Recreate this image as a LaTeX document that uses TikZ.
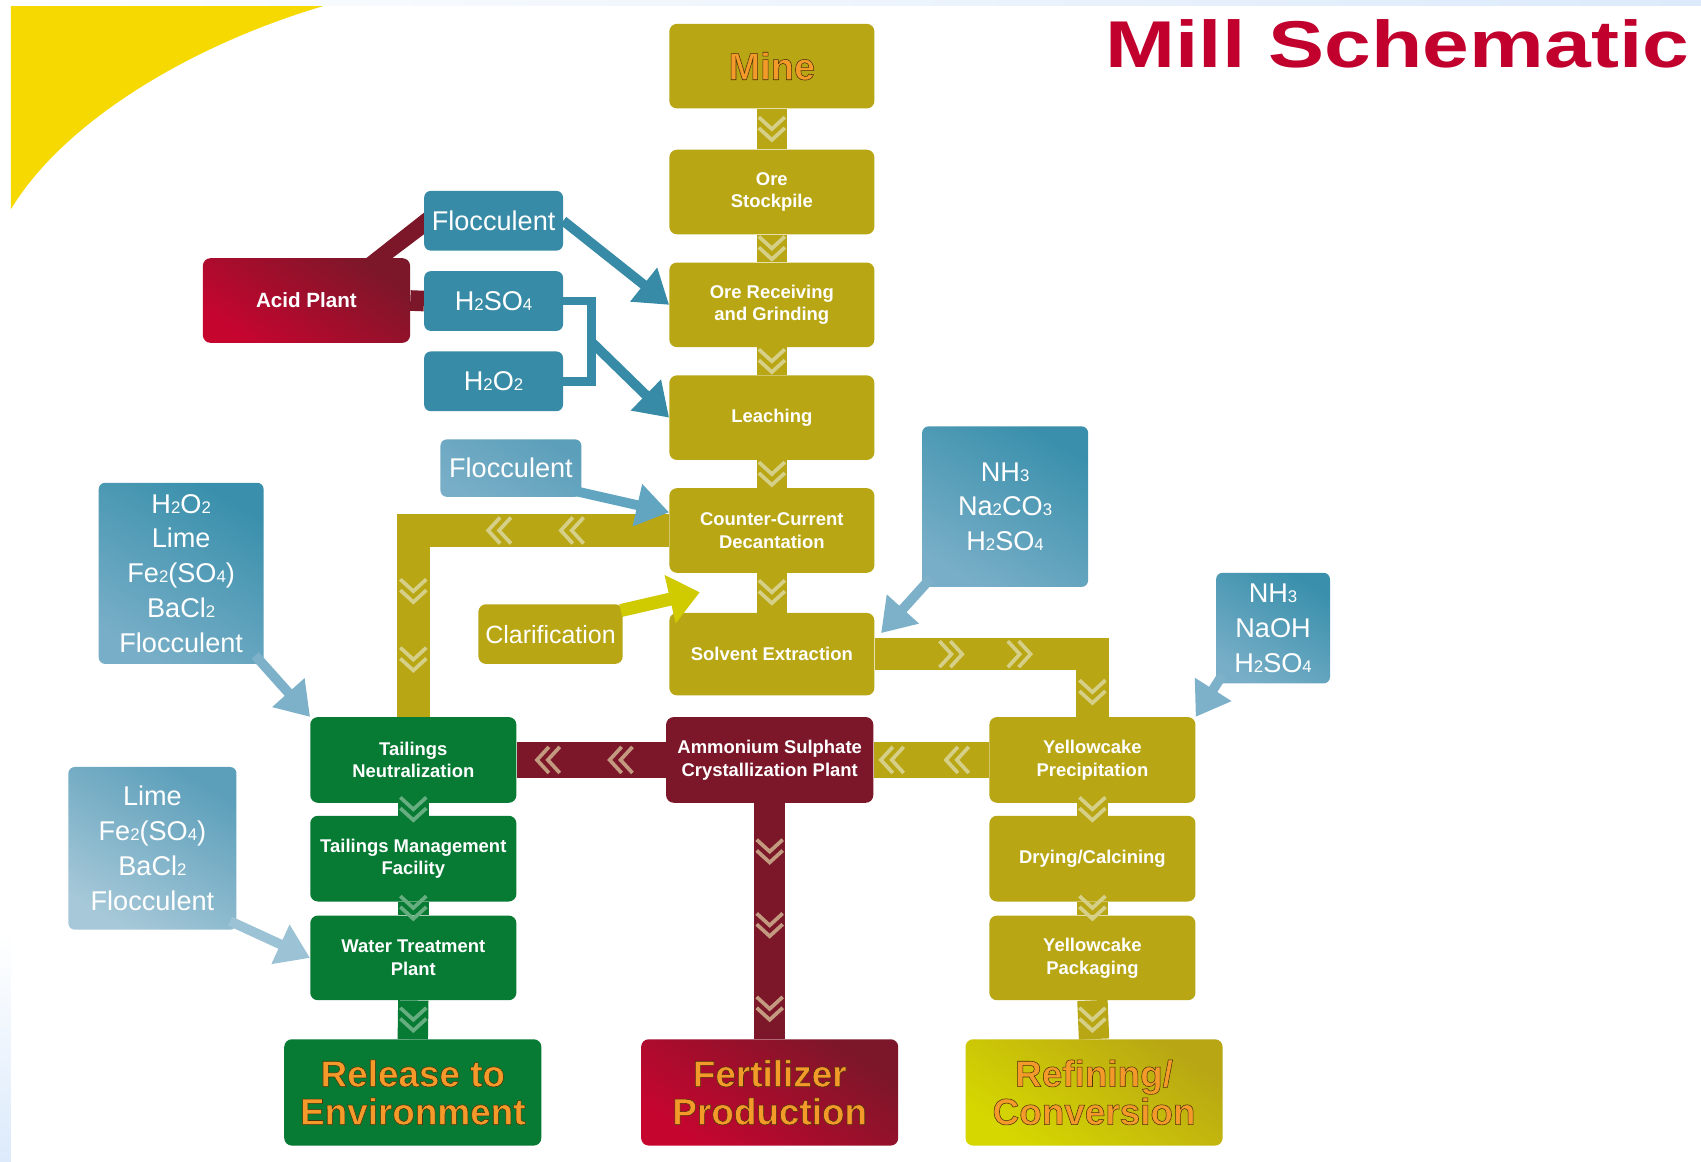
\documentclass[tikz,border=0pt]{standalone}
\usepackage{fontspec}
\setmainfont{Liberation Sans}
\usetikzlibrary{arrows.meta,calc}
\pgfdeclarelayer{bg}
\pgfsetlayers{bg,main}
\definecolor{cOlive}{HTML}{B8A614}
\definecolor{cOliveL}{HTML}{D6CF88}
\definecolor{cGreen}{HTML}{077A34}
\definecolor{cGreenL}{HTML}{66AE80}
\definecolor{cRed}{HTML}{7B1729}
\definecolor{cRedL}{HTML}{C39A80}
\definecolor{cCrimson}{HTML}{C6052F}
\definecolor{cBlue}{HTML}{378BA6}
\definecolor{cBlueL}{HTML}{62A5C0}
\definecolor{cBlueP}{HTML}{7DB1C9}
\definecolor{cBlueQ}{HTML}{9CC3D5}
\definecolor{cBlueA}{HTML}{3A90AC}
\definecolor{cBlueB}{HTML}{78AEC7}
\definecolor{cBlueC}{HTML}{5C9FBA}
\definecolor{cBlueD}{HTML}{A6C8D8}
\definecolor{cYellow}{HTML}{F6D900}
\definecolor{cTitle}{HTML}{C1002E}
\definecolor{cOrange}{HTML}{F49A2A}
\definecolor{cClar}{HTML}{D0CA00}
\definecolor{cLime}{HTML}{D6D700}
\definecolor{cStrip}{HTML}{DCEAFB}
\newcommand\chs[1]{\scalebox{0.62}{#1}}
% orange text with a thin dark outline
\newcommand\otxt[1]{\special{pdf:literal direct 2 Tr 0.5 w 0.3 0.2 0.03 RG}#1\special{pdf:literal direct 0 Tr}}
\newcommand\chevD[3]{\draw[chevst,#3] (#1-12,#2-11) -- (#1,#2) -- (#1+12,#2-11) (#1-12,#2-1) -- (#1,#2+10) -- (#1+12,#2-1);}
\newcommand\chevL[3]{\draw[chevst,#3] (#1+1,#2-12) -- (#1-10,#2) -- (#1+1,#2+12) (#1+11,#2-12) -- (#1,#2) -- (#1+11,#2+12);}
\newcommand\chevR[3]{\draw[chevst,#3] (#1-1,#2-12) -- (#1+10,#2) -- (#1-1,#2+12) (#1-11,#2-12) -- (#1,#2) -- (#1-11,#2+12);}
\begin{document}
\begin{tikzpicture}[x=1pt,y=-1pt,
  box/.style={rounded corners=7pt, text=white, align=center, inner sep=0pt, font=\bfseries\fontsize{17}{21}\selectfont},
  ob/.style={box, fill=cOlive},
  gb/.style={box, fill=cGreen},
  rb/.style={box, fill=cRed},
  bb/.style={rounded corners=6pt, text=white, align=center, inner sep=0pt, font=\fontsize{25}{32}\selectfont},
  big/.style={font=\bfseries\fontsize{34}{35}\selectfont, text=cOrange},
  wh/.style 2 args={minimum width=#1, minimum height=#2},
  redgrad/.style={top color=cRed, middle color=cRed, bottom color=cCrimson, shading angle=-35},
  limegrad/.style={top color=cOlive, middle color=cOlive!70!cLime, bottom color=cLime, shading angle=-35},
  oband/.style={draw=cOlive, line width=28pt},
  gband/.style={draw=cGreen, line width=28pt},
  rband/.style={draw=cRed, line width=29pt},
  barrow/.style={draw=#1, line width=9pt, -{Triangle[length=30pt,width=38pt]}},
  chevst/.style={line width=3.4pt, line cap=butt, line join=miter}
]
\useasboundingbox (0,0) rectangle (1568,1071);

% title
\node[anchor=base, text=cTitle, inner sep=0pt, font=\bfseries\fontsize{61}{61}\selectfont] (title) at (1288,62) {\scalebox{1.27}[1]{Mill Schematic}};

% main column
\node[ob, wh={189pt}{78pt}, text=cOrange, font=\bfseries\fontsize{35}{35}\selectfont] (mine) at (711.5,61) {\otxt{Mine}};
\node[ob, wh={189pt}{78pt}] (stock) at (711.5,177) {Ore\\Stockpile};
\node[ob, wh={189pt}{78pt}] (org) at (711.5,281) {Ore Receiving\\and Grinding};
\node[ob, wh={189pt}{78pt}] (leach) at (711.5,385) {Leaching};
\node[ob, wh={189pt}{78pt}] (ccd) at (711.5,489) {Counter-Current\\Decantation};
\node[ob, wh={189pt}{76pt}] (sx) at (711.5,603) {Solvent Extraction};

% reagents
\node[box, wh={191pt}{78pt}, redgrad, font=\bfseries\fontsize{19}{21}\selectfont] (acid) at (282.5,277) {Acid Plant};
\node[bb, fill=cBlue, wh={128pt}{55pt}] (floc1) at (455,203.5) {Flocculent};
\node[bb, fill=cBlue, wh={128pt}{55pt}] (h2so4) at (455,277.5) {H\chs{2}SO\chs{4}};
\node[bb, fill=cBlue, wh={128pt}{55pt}] (h2o2) at (455,351.5) {H\chs{2}O\chs{2}};
\node[bb, top color=cBlueC, bottom color=cBlueB, shading angle=-30, wh={130pt}{53pt}] (floc2) at (471,431.5) {Flocculent};
\node[bb, top color=cBlueA, bottom color=cBlueB, shading angle=-30, wh={152pt}{167pt}] (lb1) at (167,528.5) {H\chs{2}O\chs{2}\\Lime\\Fe\chs{2}(SO\chs{4})\\BaCl\chs{2}\\Flocculent};
\node[bb, top color=cBlueC, bottom color=cBlueD, shading angle=-30, wh={155pt}{150pt}] (lb2) at (140.5,782) {Lime\\Fe\chs{2}(SO\chs{4})\\BaCl\chs{2}\\Flocculent};
\node[ob, wh={133pt}{55pt}, font=\fontsize{23}{25}\selectfont] (clar) at (507.5,584.5) {Clarification};
\node[bb, top color=cBlueA, bottom color=cBlueB, shading angle=-30, wh={153pt}{148pt}] (nh1) at (926.5,467) {NH\chs{3}\\Na\chs{2}CO\chs{3}\\H\chs{2}SO\chs{4}};
\node[bb, top color=cBlueA, bottom color=cBlueB, shading angle=-30, wh={105pt}{102pt}] (nh2) at (1173.5,579) {NH\chs{3}\\NaOH\\H\chs{2}SO\chs{4}};

% green column
\node[gb, wh={190pt}{79pt}] (tn) at (381,700.5) {Tailings\\Neutralization};
\node[gb, wh={190pt}{79pt}] (tmf) at (381,791.5) {Tailings Management\\Facility};
\node[gb, wh={190pt}{78pt}] (wtp) at (381,883) {Water Treatment\\Plant};
\node[gb, big, wh={237pt}{98pt}] (rel) at (380.5,1007) {\otxt{Release to}\\\otxt{Environment}};

% red column
\node[rb, wh={191pt}{79pt}] (as) at (709.5,700.5) {Ammonium Sulphate\\Crystallization Plant};
\node[box, big, redgrad, wh={237pt}{98pt}] (fp) at (709.5,1007) {\otxt{Fertilizer}\\\otxt{Production}};

% yellowcake column
\node[ob, wh={190pt}{79pt}] (yp) at (1007,700.5) {Yellowcake\\Precipitation};
\node[ob, wh={190pt}{79pt}] (dc) at (1007,791.5) {Drying/Calcining};
\node[ob, wh={190pt}{78pt}] (ypk) at (1007,883) {Yellowcake\\Packaging};
\node[box, big, limegrad, wh={237pt}{98pt}] (ref) at (1008.5,1007) {\otxt{Refining/}\\\otxt{Conversion}};

\begin{pgfonlayer}{bg}
  \fill[white] (0,0) rectangle (1568,1071);
  \fill[cYellow] (10,5) -- (300,5) .. controls (180,40) and (60,110) .. (10,193) -- cycle;
  \fill[left color=white, right color=cStrip] (0,0) rectangle (1568,5);
  \fill[top color=white, bottom color=cStrip] (0,860) rectangle (10,1071);
  % flow bands
  \draw[oband] (mine.south) -- (stock.north);
  \draw[oband] (stock.south) -- (org.north);
  \draw[oband] (org.south) -- (leach.north);
  \draw[oband] (leach.south) -- (ccd.north);
  \draw[oband] (ccd.south) -- (sx.north);
  \draw[oband, line width=30pt] (ccd.west) -| (tn.north);
  \draw[oband, line width=30pt] (sx.east) -| (yp.north);
  \draw[gband] (tn.south) -- (tmf.north);
  \draw[gband] (tmf.south) -- (wtp.north);
  \draw[gband] (wtp.south) -- (rel.north);
  \draw[rband, line width=33pt] (as.west) -- (tn.east);
  \draw[oband, line width=33pt] (yp.west) -- (as.east);
  \draw[rband] (as.south) -- (fp.north);
  \draw[oband] (yp.south) -- (dc.north);
  \draw[oband] (dc.south) -- (ypk.north);
  \draw[oband] (ypk.south) -- (ref.north);
  % acid plant links
  \fill[cRed] ($(acid.north west)+(151,0)$) -- ($(acid.north west)+(175,0)$) -- ($(floc1.west)+(2,11)$) -- ($(floc1.west)+(2,-9)$) -- cycle;
  \draw[cRed, line width=19pt] (acid.east) -- (h2so4.west);
  % bracket
  \coordinate (brk) at (545,315);
  \draw[cBlue, line width=8pt] (h2so4.east) -| (brk) |- (h2o2.east);
\end{pgfonlayer}

% reagent arrows
\draw[barrow=cBlue] (floc1.east) -- (org.west);
\draw[barrow=cBlue] (brk) -- (leach.west);
\draw[barrow=cBlueL] ($(floc2.south east)+(-8,-6)$) -- (ccd.170);
\draw[barrow=cBlueP] ($(lb1.south east)+(-8,-8)$) -- (tn.north west);
\draw[barrow=cBlueQ] ($(lb2.south east)+(-6,-8)$) -- (wtp.west);
\draw[barrow=cBlueP] ($(nh1.south west)+(8,-8)$) -- ($(sx.15)+(6,6)$);
\draw[barrow=cBlueP] ($(nh2.south west)+(6,-8)$) -- (yp.north east);
\coordinate (clartip) at (645,546);
\draw[draw=cClar, line width=12pt, -{Triangle[length=28pt,width=44pt]}] ($(clar.north east)+(-2,6)$) -- (clartip);

% chevrons
\chevD{711.5}{119}{cOliveL}
\chevD{711.5}{229}{cOliveL}
\chevD{711.5}{333}{cOliveL}
\chevD{711.5}{437}{cOliveL}
\chevD{711.5}{546}{cOliveL}
\chevL{460}{489}{cOliveL}
\chevL{527}{489}{cOliveL}
\chevD{381}{545}{cOliveL}
\chevD{381}{608}{cOliveL}
\chevR{877}{603}{cOliveL}
\chevR{940}{603}{cOliveL}
\chevD{1007}{638}{cOliveL}
\chevD{381}{746}{cGreenL}
\chevD{381}{837}{cGreenL}
\chevD{381}{940}{cGreenL}
\chevL{505}{700.5}{cRedL}
\chevL{572}{700.5}{cRedL}
\chevL{822}{700.5}{cOliveL}
\chevL{882}{700.5}{cOliveL}
\chevD{709.5}{785}{cRedL}
\chevD{709.5}{853}{cRedL}
\chevD{709.5}{930}{cRedL}
\chevD{1007}{746}{cOliveL}
\chevD{1007}{837}{cOliveL}
\chevD{1007}{940}{cOliveL}
\end{tikzpicture}
\end{document}
